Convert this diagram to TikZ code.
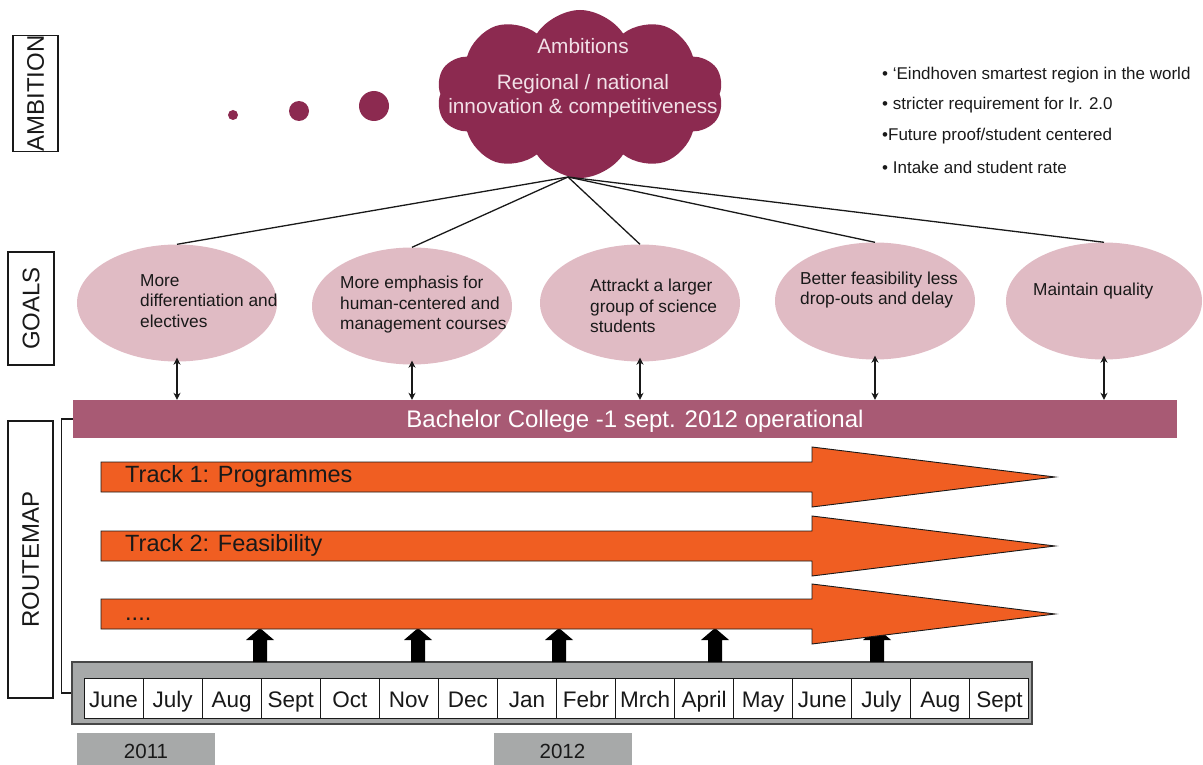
\documentclass[tikz,border=0pt]{standalone}
\usepackage{fontspec}
\setmainfont{Liberation Sans}
\usetikzlibrary{shapes.symbols,shapes.geometric,arrows.meta}
\definecolor{wine}{RGB}{140,42,80}
\definecolor{goalpink}{RGB}{224,187,196}
\definecolor{barrose}{RGB}{168,90,116}
\definecolor{trackorange}{RGB}{240,94,34}
\definecolor{tlgray}{RGB}{167,169,169}
\definecolor{cloudtext}{RGB}{242,224,231}
\definecolor{ink}{RGB}{25,25,25}
\begin{document}
\begin{tikzpicture}[x=1pt,y=-1pt,
  lbl/.style={draw=ink, line width=1.3pt, rotate=90, inner sep=0pt, font=\fontsize{24}{27}\selectfont, text=ink},
  goal/.style={ellipse, fill=goalpink, minimum width=200pt, minimum height=117pt, inner sep=0pt},
  goaltext/.style={anchor=west, align=left, inner sep=0pt, font=\fontsize{17.3}{20.5}\selectfont, text=ink},
  cloudlbl/.style={inner sep=0pt, text=cloudtext, font=\fontsize{20.8}{24}\selectfont},
  bullet/.style={anchor=west, inner sep=0pt, font=\fontsize{17}{20}\selectfont, text=ink},
  tracklbl/.style={anchor=base west, inner sep=0pt, font=\fontsize{23.5}{27}\selectfont, text=ink},
  cell/.style={draw=ink, line width=1pt, fill=white, minimum width=59.06pt, minimum height=40pt, inner sep=0pt, text height=18pt, text depth=0pt, font=\fontsize{22.5}{26}\selectfont, text=ink},
  yearbox/.style={fill=tlgray, minimum width=138pt, minimum height=36pt, inner sep=0pt, font=\fontsize{20.5}{24}\selectfont, text=ink},
  link/.style={draw=ink, line width=1.3pt},
  dbl/.style={draw=ink, line width=1.2pt, {Stealth[length=7pt,width=7pt]}-{Stealth[length=7pt,width=7pt]}},
  trackarrow/.style={fill=trackorange, draw=ink, line width=0.9pt, line join=miter},
  uparrow/.style={fill=black}
]
\useasboundingbox (0,0) rectangle (1203,765);

% ---- left labels
\node[lbl, minimum width=113pt, minimum height=45pt] (labA) at (35.5,93.5) {AMBITION};
\node[lbl, minimum width=113pt, minimum height=46pt] (labG) at (31,308.5) {GOALS};
\node[lbl, minimum width=277pt, minimum height=45pt] (labR) at (30.5,559.5) {ROUTEMAP};

% ---- thought dots and cloud
\fill[wine] (233,115) circle (5);
\fill[wine] (299,111) circle (10);
\fill[wine] (374,106) circle (15);
\node[cloud, cloud puffs=10, cloud puff arc=115, aspect=1.7, fill=wine, minimum width=287pt, minimum height=168pt, inner sep=0pt] (amb) at (580,94) {};
\node[cloudlbl] (ambt1) at (583,46) {Ambitions};
\node[cloudlbl] (ambt2) at (583,84) {Regional / national};
\node[cloudlbl] (ambt3) at (583,108) {innovation \& competitiveness};
\coordinate (cb) at (568,177);

% ---- bullets
\node[bullet] (b1) at (882,75) {\textbullet\ ‘Eindhoven smartest region in the world};
\node[bullet] (b2) at (882,105) {\textbullet\ stricter requirement for Ir. 2.0};
\node[bullet] (b3) at (882,136) {\textbullet Future proof/student centered};
\node[bullet] (b4) at (882,167) {\textbullet\ Intake and student rate};

% ---- goals
\node[goal] (g1) at (177,303) {};
\node[goal] (g2) at (412,306) {};
\node[goal] (g3) at (640,303) {};
\node[goal] (g4) at (875,301) {};
\node[goal, minimum width=196pt] (g5) at (1104,301) {};
\node[goaltext] (g1t) at (140,301) {More\\differentiation and\\electives};
\node[goaltext] (g2t) at (340,305) {More emphasis for\\human-centered and\\management courses};
\node[goaltext] (g3t) at (590,306) {Attrackt a larger\\group of science\\students};
\node[goaltext] (g4t) at (800,290) {Better feasibility less\\drop-outs and delay};
\node[goaltext] (g5t) at (1033,291) {Maintain quality};

\foreach \g in {g1,g2,g3,g4,g5} \draw[link] (cb) -- (\g.north);

% ---- bachelor college bar
\node[fill=barrose, minimum width=1104pt, minimum height=38pt, inner sep=0pt] (bar) at (625,419) {};
\node[inner sep=0pt, text=white, font=\fontsize{24}{28}\selectfont] (bart) at (635,421) {Bachelor College -1 sept. 2012 operational};
\foreach \g in {g1,g2,g3,g4,g5} \draw[dbl] ([yshift=4pt]\g.south) -- (\g.south |- bar.north);

% ---- timeline
\node[draw=ink!80, line width=1.3pt, fill=tlgray, minimum width=960pt, minimum height=62pt, inner sep=0pt] (tl) at (552,693) {};
\foreach \mo [count=\i] in {June,July,Aug,Sept,Oct,Nov,Dec,Jan,Febr,Mrch,April,May,June,July,Aug,Sept}
  \node[cell] (m\i) at ({84+59.06*(\i-0.5)},698) {\mo};
\draw[draw=ink, line width=1.1pt] (bar.west) -- ++(-11,0) |- (tl.west);

\node[yearbox] (y1) at (146,751) {2011};
\node[yearbox] (y2) at (562.5,751) {2012};

% ---- milestone arrows
\foreach \x in {260,418,559,715,877}
  \fill[uparrow] ({\x-7},662) -- ({\x-7},640) -- ({\x-14},640) -- (\x,628) -- ({\x+14},640) -- ({\x+7},640) -- ({\x+7},662) -- cycle;

% ---- track arrows
\foreach \m in {477,546,614}
  \filldraw[trackarrow] (101,{\m-15}) -- (812,{\m-15}) -- (812,{\m-30}) -- (1055,\m) -- (812,{\m+30}) -- (812,{\m+15}) -- (101,{\m+15}) -- cycle;
\node[tracklbl] (t1) at (125,482) {Track 1: Programmes};
\node[tracklbl] (t2) at (125,551) {Track 2: Feasibility};
\node[tracklbl] (t3) at (125,620) {....};
\end{tikzpicture}
\end{document}
